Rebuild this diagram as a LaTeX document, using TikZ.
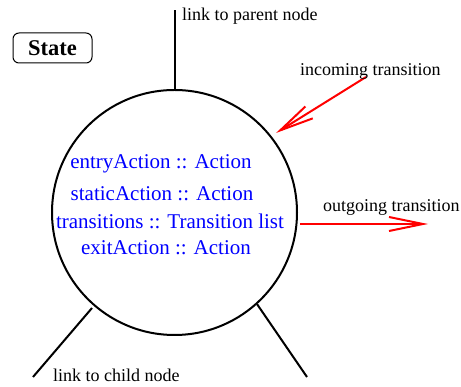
\documentclass[tikz,border=0pt]{standalone}
\usepackage{fontspec}
\setmainfont{Liberation Serif}
\usetikzlibrary{arrows.meta}
\begin{document}
\begin{tikzpicture}[x=1pt,y=-1pt,
  link/.style={line width=2pt,black},
  trans/.style={line width=2pt,red,-{Straight Barb[length=34pt,width=14pt,line width=2pt]}},
  note/.style={font=\fontsize{18}{20}\selectfont,anchor=base west,inner sep=0pt},
  attr/.style={font=\fontsize{21}{23}\selectfont,text=blue,anchor=base,inner sep=0pt}]
\useasboundingbox (0,0) rectangle (461,387);
% state circle
\node[draw,circle,line width=2pt,minimum size=245pt,inner sep=0pt] (st) at (174.5,212.5) {};
% title box
\node[draw,rounded corners=6pt,line width=1pt,minimum width=79pt,minimum height=30pt,
      font=\fontsize{22.5}{24}\bfseries\selectfont] (title) at (52.5,48) {State};
% attributes
\node[attr] (a1) at (161,169) {entryAction :: Action};
\node[attr] (a2) at (162,200.5) {staticAction :: Action};
\node[attr] (a3) at (170,229) {transitions :: Transition list};
\node[attr] (a4) at (166,255) {exitAction :: Action};
% tree links
\coordinate (parent) at (174.5,10);
\draw[link] (st.north) -- (parent);
\node[note] (lp) at (182,21) {link to parent node};
\coordinate (cl1) at (92,308);
\coordinate (cl2) at (33,377);
\draw[link] (cl1) -- (cl2);
\coordinate (cr1) at (st.312.4);
\coordinate (cr2) at (307,377);
\draw[link] (cr1) -- (cr2);
\node[note] (lc) at (53,382) {link to child node};
% transitions
\coordinate (in0) at (366,77);
\coordinate (in1) at (276,133);
\draw[trans] (in0) -- (in1);
\node[note] (li) at (300,76) {incoming transition};
\coordinate (out0) at (300,224);
\coordinate (out1) at (428,224);
\draw[trans] (out0) -- (out1);
\node[note] (lo) at (323,212) {outgoing transition};
\end{tikzpicture}
\end{document}
